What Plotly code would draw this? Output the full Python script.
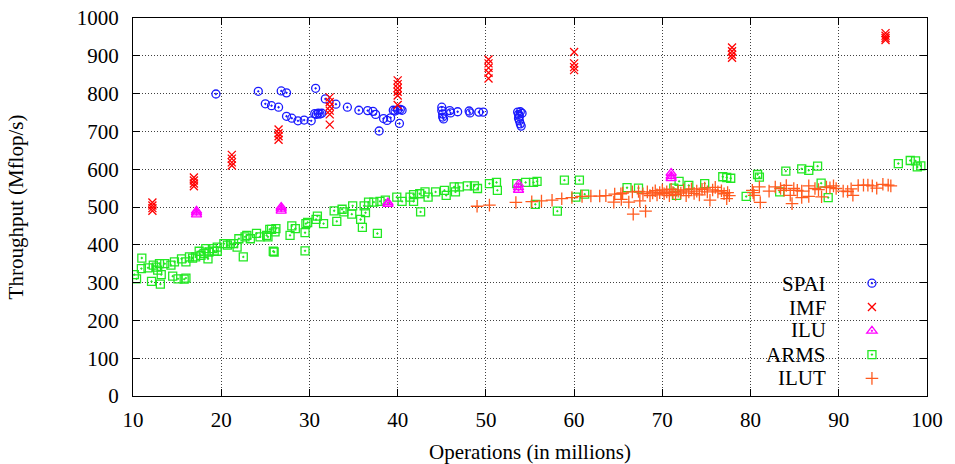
import plotly.graph_objects as go

# ---- data ----
spai_x = [19.4, 24.2, 25.0, 25.7, 26.5, 26.8, 27.4, 27.4, 28.0, 28.7, 29.4, 30.2, 30.6, 30.7, 30.8,
          31.0, 31.2, 31.4, 31.8, 33.0, 34.3, 35.6, 36.6, 37.2, 37.5, 37.9, 38.4, 38.8, 39.2, 39.5,
          39.7, 40.0, 40.2, 40.3, 40.5, 45.0, 45.0, 45.1, 45.1, 45.2, 45.9, 46.0, 46.8, 48.1, 48.2,
          49.2, 49.7, 53.6, 53.7, 53.8, 53.7, 53.8, 53.9, 54.0, 54.1, 53.9]
spai_y = [799, 806, 773, 768, 764, 807, 802, 740, 735, 728, 730, 728, 747, 814, 745,
          748, 746, 748, 786, 772, 764, 756, 755, 753, 745, 701, 734, 729, 736, 756,
          754, 757, 721, 758, 756, 764, 755, 746, 738, 733, 755, 749, 752, 754, 749,
          751, 751, 751, 745, 740, 735, 728, 720, 714, 748, 752]

imf_x = [12.2, 12.2, 12.2, 12.2, 16.9, 16.9, 16.9, 16.9, 21.2, 21.2, 21.2, 21.2,
         26.5, 26.5, 26.5, 26.5, 32.3, 32.3, 32.3, 32.3, 32.3, 32.3,
         40.0, 40.0, 40.0, 40.0, 40.0, 40.0, 50.3, 50.3, 50.3, 50.3, 50.3,
         60.0, 60.0, 60.0, 60.0, 77.9, 77.9, 77.9, 77.9, 95.3, 95.3, 95.3, 95.3]
imf_y = [512, 504, 497, 490, 578, 570, 562, 555, 638, 628, 618, 610,
         705, 695, 687, 678, 790, 778, 766, 755, 745, 718,
         835, 825, 815, 805, 795, 770, 890, 880, 868, 855, 840,
         910, 880, 870, 862, 922, 912, 903, 895, 960, 953, 947, 942]

ilu_x = [17.2, 17.2, 17.2, 26.8, 26.8, 26.8, 38.9, 38.9, 53.7, 53.7, 53.7, 71.0, 71.0, 71.0]
ilu_y = [490, 485, 480, 500, 495, 490, 512, 508, 560, 552, 545, 590, 582, 576]

arms_x = [10.15, 10.4, 11.0, 10.95, 11.7, 12.1, 12.3, 12.65, 12.8, 13.0, 13.1, 13.2, 13.6, 14.3,
          14.5, 14.7, 15.1, 15.5, 15.8, 16.0, 16.0, 16.4, 16.75, 17.1, 17.5, 17.7, 18.05, 18.25,
          18.5, 18.6, 19.0, 19.2, 19.55, 19.55, 20.3, 20.7, 21.05, 21.4, 21.8, 22.0, 22.5, 22.7,
          22.9, 23.3, 24.0, 24.4, 25.15, 25.5, 25.9, 25.3, 25.7, 26.1, 26.2, 26.0, 27.8, 28.0,
          28.4, 29.5, 29.5, 29.6, 29.8, 30.75, 30.9, 31.6, 32.8, 33.1, 33.7, 33.9, 34.8, 34.9,
          35.8, 36.0, 36.2, 36.35, 36.7, 37.3, 37.7, 38.0, 38.6, 39.9, 40.5, 41.4, 41.8, 41.8,
          42.5, 42.6, 43.1, 43.45, 44.3, 45.3, 45.5, 46.4, 46.55, 47.0, 47.9, 48.7, 49.05, 50.4,
          51.2, 51.3, 53.5, 54.5, 55.4, 55.8, 55.6, 58.1, 58.9, 60.6, 60.2, 61.2, 66.0, 67.3,
          71.3, 71.6, 71.9, 73.0, 74.8, 76.85, 77.3, 77.75, 80.8, 81.0, 79.5, 83.3, 84.0, 85.8,
          86.6, 87.6, 88.0, 88.8, 96.75, 98.1, 98.7, 98.9, 99.3]
arms_y = [321, 310, 365, 337, 339, 303, 346, 341, 333, 350, 296, 321, 350, 346,
          317, 355, 310, 363, 309, 312, 355, 368, 365, 368, 383, 372, 377, 390,
          363, 381, 390, 383, 394, 383, 403, 399, 403, 403, 394, 416, 368, 421,
          425, 416, 430, 421, 425, 441, 383, 421, 441, 434, 443, 381, 425, 450,
          443, 432, 384, 456, 459, 467, 476, 456, 490, 462, 494, 487, 481, 503,
          467, 446, 503, 485, 513, 513, 430, 515, 518, 526, 515, 526, 515, 533,
          535, 487, 540, 526, 540, 544, 531, 553, 540, 553, 556, 556, 549, 562,
          565, 544, 562, 565, 565, 568, 507, 489, 571, 571, 526, 534, 551, 550,
          550, 531, 568, 557, 562, 580, 578, 576, 586, 579, 528, 540, 595, 601,
          597, 608, 563, 525, 615, 623, 622, 606, 609]

ilut_x = [49.0, 50.4, 53.4, 55.2, 56.3, 57.5, 58.6, 59.75, 60.9, 61.9, 62.9, 63.6, 64.5, 64.6,
          65.3, 65.5, 65.35, 66.2, 66.7, 66.6, 67.3, 67.45, 67.8, 68.1, 68.3, 68.6, 68.9, 69.2,
          69.4, 69.7, 70.0, 70.2, 70.5, 70.8, 71.0, 71.2, 71.5, 71.8, 72.1, 72.4, 72.7, 73.0,
          73.3, 73.6, 73.9, 74.2, 74.5, 74.8, 75.1, 75.4, 75.7, 76.0, 76.3, 76.7, 77.0, 77.3,
          77.4, 77.6, 80.2, 80.3, 80.4, 81.0, 81.1, 82.1, 82.8, 83.4, 83.8, 84.05, 84.5, 84.7,
          84.9, 85.3, 85.8, 85.8, 86.6, 86.6, 87.3, 87.7, 88.05, 88.6, 89.0, 89.4, 89.7, 90.5,
          91.0, 91.4, 91.6, 92.2, 92.8, 93.3, 93.8, 94.3, 95.0, 95.6, 95.9]
ilut_y = [502, 505, 512, 514, 516, 518, 522, 525, 528, 529, 529, 530, 513, 534,
          535, 537, 520, 513, 481, 540, 541, 516, 535, 489, 540, 530, 537, 543,
          532, 538, 545, 535, 540, 530, 547, 538, 533, 542, 537, 545, 530, 540,
          548, 536, 542, 532, 547, 550, 540, 518, 545, 552, 540, 543, 535, 522,
          538, 530, 544, 538, 531, 553, 512, 542, 553, 549, 544, 557, 531, 509,
          549, 544, 542, 525, 556, 528, 549, 546, 527, 553, 551, 556, 549, 542,
          541, 548, 531, 557, 558, 558, 556, 550, 560, 558, 556]

series_names = ["SPAI", "IMF", "ILU", "ARMS", "ILUT"]
x_ticks = [10, 20, 30, 40, 50, 60, 70, 80, 90, 100]
y_ticks = [0, 100, 200, 300, 400, 500, 600, 700, 800, 900, 1000]

FONT = "Liberation Serif"
FS = 21

styles = [
    dict(symbol="circle-open-dot", color="#1a1aff", size=8),
    dict(symbol="x-thin-open", color="#ff0000", size=8),
    dict(symbol="triangle-up-open-dot", color="#ff00ff", size=9),
    dict(symbol="square-open-dot", color="#22e822", size=8),
    dict(symbol="cross-thin-open", color="#ff5a1e", size=9),
]
data = [(spai_x, spai_y), (imf_x, imf_y), (ilu_x, ilu_y), (arms_x, arms_y), (ilut_x, ilut_y)]
draw_order = [3, 4, 0, 1, 2]

fig = go.Figure()
for i in draw_order:
    xs, ys = data[i]
    st = styles[i]
    fig.add_trace(go.Scatter(
        x=xs, y=ys, mode="markers", name=series_names[i],
        legendrank=i + 1,
        marker=dict(symbol=st["symbol"], size=st["size"], color=st["color"],
                    line=dict(color=st["color"], width=1.3)),
    ))

axis_common = dict(
    showline=True, linecolor="black", linewidth=1.3, mirror="ticks",
    ticks="inside", ticklen=7, tickcolor="black", tickwidth=1,
    showgrid=True, gridcolor="rgba(0,0,0,0.75)", griddash="1px,2px", gridwidth=1,
    zeroline=False, automargin=False, ticklabeloverflow="allow",
    tickfont=dict(family=FONT, size=FS, color="black"),
)

fig.update_layout(
    template="none",
    width=955, height=464,
    margin=dict(l=133, r=18, t=18, b=68),
    paper_bgcolor="white", plot_bgcolor="white",
    font=dict(family=FONT, size=FS, color="black"),
    xaxis=dict(range=[10, 100], tickvals=x_ticks, ticklabelstandoff=5,
               title=dict(text="Operations (in millions)", font=dict(family=FONT, size=FS), standoff=14),
               **axis_common),
    yaxis=dict(range=[0, 1000], tickvals=y_ticks, ticklabelstandoff=9,
               title=dict(text="Throughput (Mflop/s)", font=dict(family=FONT, size=FS), standoff=47),
               **axis_common),
    showlegend=True,
    legend=dict(x=(861 - 133) / 804, xanchor="left", y=(395.7 - 266) / 378, yanchor="top",
                bgcolor="rgba(0,0,0,0)", borderwidth=0,
                font=dict(family=FONT, size=16, color="rgba(0,0,0,0)"),
                itemsizing="trace", tracegroupgap=0),
    shapes=[dict(type="rect", xref="paper", yref="paper",
                 x0=(773 - 133) / 804, x1=(921 - 133) / 804,
                 y0=0.006, y1=(395.7 - 268) / 378,
                 fillcolor="white", line=dict(width=0), layer="between")],
)

row_py = [283.3, 307.3, 330.0, 354.3, 377.7]
for name, py in zip(series_names, row_py):
    fig.add_annotation(text=name, xref="paper", yref="paper",
                       x=(837 - 133) / 804, y=(395.7 - py) / 378,
                       xanchor="right", yanchor="middle", showarrow=False,
                       font=dict(family=FONT, size=FS, color="black"))

fig.write_html("out.html", config={"displayModeBar": False},
               post_script="document.body.style.margin='0';document.body.style.overflow='hidden';")
